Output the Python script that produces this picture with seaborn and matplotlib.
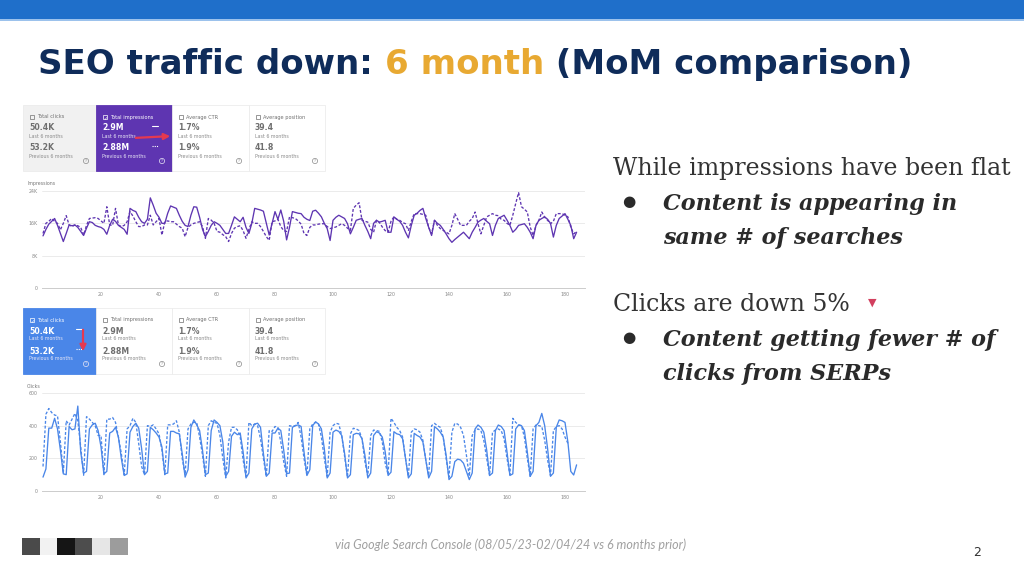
import pandas as pd
import matplotlib.pyplot as plt
import seaborn as sns
from matplotlib.patches import Rectangle, Circle

sns.set_style("white")
plt.rcParams["font.family"] = ["DejaVu Sans"]

# impressions per day (thousands), last 6 months vs previous 6 months
imp_current = [
    12.9, 14.5, 15.8, 16.5, 17.2, 15.5, 13.5,
    11.5, 13.5, 15.6, 15.4, 15.6, 15.0, 14.0,
    13.0, 14.8, 16.4, 16.2, 15.5, 15.2, 15.0,
    14.5, 13.3, 15.5, 17.0, 16.5, 15.5, 15.0,
    14.5, 13.3, 19.7, 19.2, 18.9, 17.5, 16.4,
    16.0, 17.0, 22.3, 20.5, 18.5, 17.5, 16.0,
    16.0, 18.5, 20.3, 20.0, 19.7, 18.0, 16.5,
    15.5, 15.2, 18.0, 20.1, 20.0, 17.5, 14.5,
    12.7, 14.0, 15.5, 16.4, 16.0, 15.5, 14.5,
    13.5, 13.5, 15.5, 17.6, 17.0, 16.4, 17.5,
    15.0, 13.5, 16.0, 19.7, 19.5, 19.3, 19.0,
    16.0, 13.1, 16.0, 18.9, 17.0, 19.3, 16.5,
    11.9, 15.0, 18.9, 18.7, 18.5, 18.4, 17.5,
    17.0, 16.7, 19.0, 19.25, 18.5, 17.6, 16.0,
    14.7, 11.75, 16.75, 17.5, 18.0, 17.6, 17.2,
    15.9, 13.4, 15.0, 16.75, 17.0, 17.2, 15.5,
    14.0, 12.2, 16.0, 16.75, 16.3, 16.5, 16.75,
    13.8, 13.8, 17.6, 17.0, 16.5, 15.5, 13.8,
    12.4, 15.5, 18.0, 18.5, 19.2, 19.7, 17.2,
    15.0, 13.0, 16.75, 16.0, 15.5, 14.5, 13.4,
    12.2, 11.3, 12.0, 12.6, 13.2, 13.8, 13.0,
    12.2, 13.8, 15.0, 16.3, 16.8, 17.2, 16.5,
    15.9, 13.0, 15.5, 17.2, 17.6, 18.0, 16.8,
    15.5, 13.8, 14.5, 15.5, 15.7, 15.9, 15.0,
    13.8, 12.2, 15.5, 16.75, 17.2, 17.6, 17.0,
    16.0, 12.6, 15.5, 17.2, 17.8, 18.4, 17.0,
    15.5, 12.2, 13.8,
]
imp_previous = [
    13.5, 16.0, 16.5, 17.2, 16.5, 16.0, 14.4,
    16.0, 17.9, 15.6, 15.2, 15.6, 15.4, 15.0,
    13.1, 15.5, 17.2, 17.3, 17.4, 17.2, 16.6,
    16.0, 20.1, 15.6, 15.5, 19.7, 15.6, 15.2,
    15.5, 16.4, 18.9, 17.8, 16.4, 15.2, 15.2,
    15.6, 15.6, 18.0, 15.6, 16.4, 17.2, 13.1,
    16.4, 16.6, 16.4, 16.4, 15.8, 15.2, 14.8,
    12.7, 15.0, 15.6, 16.0, 16.2, 16.4, 15.2,
    12.3, 17.2, 16.8, 16.0, 14.0, 13.8, 13.2,
    12.7, 11.5, 13.5, 14.8, 15.2, 15.4, 14.2,
    12.3, 14.5, 16.4, 16.0, 16.0, 15.2, 14.0,
    12.7, 11.8, 16.4, 16.6, 17.0, 15.2, 14.2,
    14.0, 17.6, 17.4, 17.2, 16.6, 15.8, 13.5,
    13.0, 15.0, 15.6, 15.6, 15.8, 15.9, 15.9,
    15.2, 14.7, 14.9, 15.1, 15.5, 15.9, 15.5,
    14.8, 14.25, 19.7, 20.5, 21.1, 16.75, 16.5,
    16.3, 14.5, 13.8, 16.75, 16.2, 15.1, 14.2,
    13.8, 16.5, 17.6, 17.0, 16.75, 16.2, 15.9,
    14.25, 16.5, 18.4, 18.4, 18.4, 18.2, 18.0,
    15.0, 13.4, 16.75, 15.5, 14.7, 14.25, 13.8,
    13.4, 15.5, 18.4, 17.0, 15.5, 15.5, 15.5,
    16.5, 17.2, 18.8, 15.9, 13.4, 15.5, 17.6,
    18.0, 18.4, 18.0, 17.9, 17.0, 16.75, 16.0,
    15.5, 18.0, 20.9, 23.6, 20.1, 19.5, 18.8,
    15.1, 13.0, 15.5, 16.75, 18.8, 17.5, 16.75,
    15.9, 16.5, 18.4, 18.4, 18.4, 18.0, 17.6,
    15.1, 13.4, 14.0,
]

# clicks per day, last 6 months vs previous 6 months
clicks_current = [
    85, 135, 385, 385, 445, 380, 250,
    105, 100, 395, 375, 380, 520, 240,
    110, 120, 380, 405, 415, 370, 270,
    105, 120, 355, 365, 390, 330, 200,
    95, 105, 360, 395, 415, 385, 260,
    100, 120, 390, 375, 355, 330, 270,
    105, 110, 365, 365, 355, 350, 230,
    85, 130, 390, 435, 405, 370, 250,
    100, 110, 370, 435, 420, 400, 300,
    90, 120, 335, 360, 345, 355, 240,
    80, 110, 380, 410, 415, 390, 230,
    90, 110, 355, 355, 385, 370, 250,
    105, 110, 390, 400, 405, 395, 240,
    95, 130, 400, 424, 410, 380, 260,
    80, 110, 360, 373, 365, 340, 230,
    80, 100, 345, 353, 350, 320, 220,
    80, 110, 340, 363, 355, 330, 240,
    95, 115, 363, 350, 345, 320, 200,
    80, 105, 353, 340, 330, 300, 190,
    80, 120, 394, 380, 360, 330, 220,
    70, 90, 180, 195, 190, 170, 120,
    70, 110, 380, 404, 390, 360, 250,
    95, 110, 370, 404, 395, 370, 240,
    95, 105, 380, 404, 400, 370, 240,
    90, 120, 400, 420, 475, 400, 260,
    90, 110, 390, 435, 430, 420, 300,
    120, 98, 160,
]
clicks_previous = [
    150, 470, 505, 480, 465, 460, 300,
    110, 430, 404, 440, 475, 430, 270,
    96, 455, 440, 420, 400, 340, 340,
    100, 440, 440, 450, 420, 330, 230,
    100, 380, 400, 445, 420, 290, 150,
    100, 400, 395, 405, 380, 350, 250,
    100, 405, 405, 410, 430, 360, 200,
    100, 380, 410, 420, 420, 330, 220,
    90, 400, 430, 420, 415, 340, 200,
    80, 300, 390, 390, 375, 330, 190,
    90, 420, 400, 410, 400, 320, 200,
    90, 370, 365, 395, 390, 300, 180,
    90, 400, 395, 400, 420, 330, 200,
    95, 380, 410, 420, 410, 330, 200,
    90, 360, 400, 415, 410, 340, 210,
    85, 350, 384, 380, 370, 320, 180,
    90, 340, 373, 370, 365, 300, 170,
    100, 445, 420, 390, 370, 330, 200,
    90, 360, 380, 375, 360, 310, 190,
    95, 400, 414, 400, 390, 330, 200,
    85, 360, 414, 410, 390, 340, 220,
    90, 340, 373, 380, 370, 310, 200,
    95, 360, 373, 380, 370, 320, 200,
    100, 445, 420, 405, 400, 330, 200,
    90, 380, 404, 400, 395, 310, 190,
    95, 370, 394, 400, 380, 330, 292,
]

card_labels = ["Total clicks", "Total impressions", "Average CTR", "Average position"]
card_last = ["50.4K", "2.9M", "1.7%", "39.4"]
card_prev = ["53.2K", "2.88M", "1.9%", "41.8"]
imp_ticks = [0, 8000, 16000, 24000]
imp_ticklabels = ["0", "8K", "16K", "24K"]
clicks_ticks = [0, 200, 400, 600]
day_ticks = [20, 40, 60, 80, 100, 120, 140, 160, 180]

W, H = 1024, 572
NAVY = "#0f2c5a"
GOLD = "#e8a932"
PURPLE = "#5e35b1"
BLUE = "#4a86e8"
RED = "#e53950"


def long_df(cur, prev, scale=1):
    return pd.DataFrame({
        "day": list(range(len(cur))) + list(range(len(prev))),
        "value": [v * scale for v in cur] + [v * scale for v in prev],
        "period": ["last"] * len(cur) + ["previous"] * len(prev),
    })


fig = plt.figure(figsize=(10.24, 5.72), dpi=100)
bg = fig.add_axes([0, 0, 1, 1])
bg.set_xlim(0, W)
bg.set_ylim(H, 0)
bg.axis("off")
renderer = fig.canvas.get_renderer()

# top band + title
bg.add_patch(Rectangle((0, 0), W, 19, color="#1f6fca", lw=0))
bg.add_patch(Rectangle((0, 19), W, 1.5, color="#9cc2ec", lw=0))
x_cur = 38
for part, col in [("SEO traffic down: ", NAVY), ("6 month", GOLD), (" (MoM comparison)", NAVY)]:
    t = bg.text(x_cur, 74, part, fontsize=24.5, fontweight="bold", color=col, va="baseline")
    x_cur += t.get_window_extent(renderer=renderer).width * W / fig.bbox.width


def draw_cards(y0, active, active_col, arrow):
    xs = [23, 96, 172, 249]
    ws = [73, 76, 77, 76]
    for i in range(4):
        x0, w = xs[i], ws[i]
        on = i == active
        if on:
            face, txt, sub = active_col, "white", "#e8e6f5"
        elif i == 0:
            face, txt, sub = "#f1f1f1", "#6f6f6f", "#8a8a8a"
        else:
            face, txt, sub = "white", "#6f6f6f", "#8a8a8a"
        bg.add_patch(Rectangle((x0, y0), w, 66, facecolor=face,
                               edgecolor="#ececec" if not on else face, lw=0.6))
        bg.add_patch(Rectangle((x0 + 7, y0 + 10), 4, 4, facecolor="none",
                               edgecolor=txt, lw=0.5))
        if on:
            bg.text(x0 + 9, y0 + 12.3, "✓", fontsize=3.5, color=txt, ha="center", va="center")
        bg.text(x0 + 14, y0 + 12, card_labels[i], fontsize=3.6, color=txt, va="center")
        bg.text(x0 + 6, y0 + 23, card_last[i], fontsize=5.6, fontweight="bold", color=txt, va="center")
        bg.text(x0 + 6, y0 + 31, "Last 6 months", fontsize=3.4, color=sub, va="center")
        bg.text(x0 + 6, y0 + 43, card_prev[i], fontsize=5.6, fontweight="bold", color=txt, va="center")
        bg.text(x0 + 6, y0 + 51, "Previous 6 months", fontsize=3.4, color=sub, va="center")
        bg.add_patch(Circle((x0 + w - 10, y0 + 56), 2.6, facecolor="none", edgecolor=sub, lw=0.5))
        bg.text(x0 + w - 10, y0 + 56.3, "?", fontsize=2.8, color=sub, ha="center", va="center")
        if on:
            bg.plot([x0 + w - 20, x0 + w - 14], [y0 + 21, y0 + 21], color="white", lw=0.8)
            bg.plot([x0 + w - 20, x0 + w - 14], [y0 + 41, y0 + 41], color="white", lw=0.8, ls=(0, (1, 1)))
    bg.annotate("", xy=arrow[1], xytext=arrow[0],
                arrowprops=dict(arrowstyle="-|>", color=RED, lw=1.6, mutation_scale=9))


draw_cards(105, 1, PURPLE, ((133, 138), (173, 136)))
draw_cards(308, 0, BLUE, ((83, 327), (83, 354)))


def draw_chart(top, bottom, data, color, ymax, ticks, ticklabels, title):
    ax = fig.add_axes([42 / W, 1 - bottom / H, (585 - 42) / W, (bottom - top) / H])
    sns.lineplot(data=data, x="day", y="value", style="period", color=color,
                 dashes={"last": "", "previous": (2.2, 1.4)}, linewidth=0.95,
                 legend=False, ax=ax)
    ax.set_xlim(-0.35, 186.9)
    ax.set_ylim(0, ymax)
    ax.set_yticks(ticks)
    ax.set_yticklabels(ticklabels)
    ax.set_xticks(day_ticks)
    ax.set_xlabel("")
    ax.set_ylabel("")
    ax.tick_params(labelsize=3.4, labelcolor="#888888", length=0, pad=3)
    for y in ticks[1:]:
        ax.axhline(y, color="#e8e8e8", lw=0.6, zorder=0)
    for s in ["top", "right", "left"]:
        ax.spines[s].set_visible(False)
    ax.spines["bottom"].set_color("#cccccc")
    ax.spines["bottom"].set_linewidth(0.7)
    bg.text(27, top - 7, title, fontsize=3.4, color="#777777", va="center")
    return ax


draw_chart(191, 288, long_df(imp_current, imp_previous, 1000), PURPLE, 24000,
           imp_ticks, imp_ticklabels, "Impressions")
draw_chart(393, 491, long_df(clicks_current, clicks_previous), BLUE, 600,
           clicks_ticks, [str(t) for t in clicks_ticks], "Clicks")

# right-hand commentary
serif = ["DejaVu Serif"]
dark = "#333333"
ink = "#2a2a2a"
bg.text(613, 175, "While impressions have been flat", fontsize=17, family=serif, color=dark, va="baseline")
bg.text(629, 202, "●", fontsize=11, color=ink, ha="center", va="center", family=["DejaVu Sans"])
bg.text(663, 210, "Content is appearing in", fontsize=16, family=serif, color=ink,
        fontweight="bold", style="italic", va="baseline")
bg.text(663, 244, "same # of searches", fontsize=16, family=serif, color=ink,
        fontweight="bold", style="italic", va="baseline")
bg.text(613, 311, "Clicks are down 5%", fontsize=17, family=serif, color=dark, va="baseline")
bg.text(872, 303, "▼", fontsize=8, color="#d2405f", ha="center", va="center", family=["DejaVu Sans"])
bg.text(629, 338, "●", fontsize=11, color=ink, ha="center", va="center", family=["DejaVu Sans"])
bg.text(663, 346, "Content getting fewer # of", fontsize=16, family=serif, color=ink,
        fontweight="bold", style="italic", va="baseline")
bg.text(663, 380, "clicks from SERPs", fontsize=16, family=serif, color=ink,
        fontweight="bold", style="italic", va="baseline")

# footer
for x0, c in zip([22, 40, 57, 75, 92, 110], ["#4a4a4a", "#f2f2f2", "#151515", "#4d4d4d", "#e6e6e6", "#9c9c9c"]):
    bg.add_patch(Rectangle((x0, 538), 18, 17, color=c, lw=0))
bg.text(511, 545, "via Google Search Console (08/05/23-02/04/24 vs 6 months prior)", fontsize=9,
        family=["Lato", "DejaVu Sans"], style="italic", color="#a0a0a0", ha="center", va="center")
bg.text(977, 553, "2", fontsize=9, color="#333333", ha="center", va="center")

fig.savefig("out.png", dpi=100, facecolor="white")
